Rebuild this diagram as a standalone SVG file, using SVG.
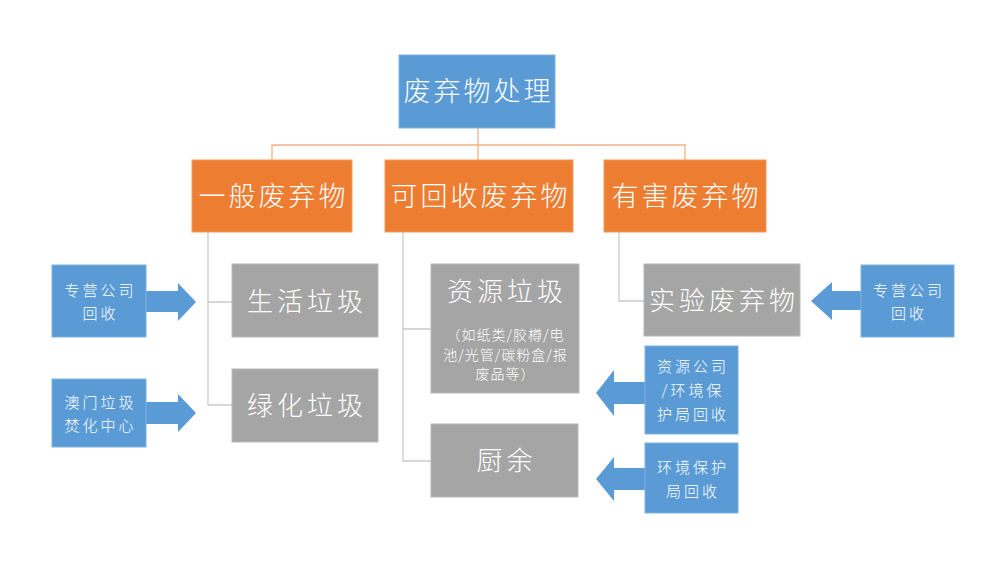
<svg xmlns="http://www.w3.org/2000/svg" width="1000" height="563" viewBox="0 0 1000 563">
<style>
.blue{fill:#5B9BD5;stroke:#7FB2E0;stroke-width:1}
.orange{fill:#ED7D31;stroke:#F29A5E;stroke-width:1}
.gray{fill:#A5A5A5;stroke:#B8B8B8;stroke-width:1}
.arrow{fill:#5B9BD5}
text{font-family:"Noto Sans CJK SC","Noto Sans CJK TC",sans-serif;fill:#FFFFFF;text-anchor:middle;dominant-baseline:central;font-weight:300}
.t0{font-size:27px;letter-spacing:3px}
.t1{font-size:27px;letter-spacing:3px}
.t2{font-size:26px;letter-spacing:4px}
.t3{font-size:14px;letter-spacing:1px}
.t4{font-size:15px;letter-spacing:3px}
.oline{fill:none;stroke:#F4B183;stroke-width:1.3}
.gline{fill:none;stroke:#C9C9C9;stroke-width:1.3}
</style>
<rect width="1000" height="563" fill="#FFFFFF"/>
<g id="connectors">
<path class="oline" d="M478,128 V145 M272,160 V145 H685 V160 M478,145 V160"/>
<path class="gline" d="M208,232 V405 H232 M208,302 H232"/>
<path class="gline" d="M403,232 V461 H431 M403,329 H431"/>
<path class="gline" d="M619,232 V301 H644"/>
<path class="arrow" d="M146,291 H178 V283 L196,302 L178,321 V312 H146 Z"/>
<path class="arrow" d="M146,402 H178 V394 L196,413 L178,432 V424 H146 Z"/>
<path class="arrow" d="M861,291 H832 V282 L811,301 L832,320 V310 H861 Z"/>
<path class="arrow" d="M645,382 H614 V370 L596,393 L614,416 V404 H645 Z"/>
<path class="arrow" d="M645,468 H614 V457 L596,479 L614,501 V490 H645 Z"/>
</g>
<g id="root">
<rect class="blue" x="399" y="55" width="156" height="73"/>
<text class="t0" x="478.5" y="89">废弃物处理</text>
</g>
<g id="general">
<rect class="orange" x="192" y="160" width="160" height="72"/>
<text class="t1" x="273.5" y="194">一般废弃物</text>
</g>
<g id="recyclable">
<rect class="orange" x="385" y="160" width="188" height="72"/>
<text class="t1" x="480.5" y="194">可回收废弃物</text>
</g>
<g id="hazardous">
<rect class="orange" x="604" y="160" width="162" height="72"/>
<text class="t1" x="686.5" y="194">有害废弃物</text>
</g>
<g id="household">
<rect class="gray" x="232" y="264" width="146" height="73"/>
<text class="t2" x="307" y="299">生活垃圾</text>
</g>
<g id="green">
<rect class="gray" x="232" y="369" width="146" height="73"/>
<text class="t2" x="307" y="403">绿化垃圾</text>
</g>
<g id="resource">
<rect class="gray" x="431" y="264" width="148" height="129"/>
<text class="t2" x="507" y="289">资源垃圾</text>
<text class="t3" x="505.5" y="334">（如纸类/胶樽/电</text>
<text class="t3" x="505.5" y="354">池/光管/碳粉盒/报</text>
<text class="t3" x="505.5" y="373">废品等）</text>
</g>
<g id="kitchen">
<rect class="gray" x="431" y="424" width="147" height="73"/>
<text class="t2" x="506.5" y="458">厨余</text>
</g>
<g id="lab">
<rect class="gray" x="644" y="264" width="156" height="72"/>
<text class="t2" x="724" y="298">实验废弃物</text>
</g>
<g id="company1">
<rect class="blue" x="52" y="265" width="94" height="72"/>
<text class="t4" x="100.5" y="289">专营公司</text>
<text class="t4" x="100.5" y="312">回收</text>
</g>
<g id="macau">
<rect class="blue" x="52" y="379" width="94" height="68"/>
<text class="t4" x="100.5" y="401">澳门垃圾</text>
<text class="t4" x="100.5" y="424">焚化中心</text>
</g>
<g id="company2">
<rect class="blue" x="861" y="265" width="93" height="72"/>
<text class="t4" x="909" y="289">专营公司</text>
<text class="t4" x="909" y="312">回收</text>
</g>
<g id="resourceco">
<rect class="blue" x="645" y="346" width="93" height="88"/>
<text class="t4" x="693" y="365">资源公司</text>
<text class="t4" x="693" y="389">/环境保</text>
<text class="t4" x="693" y="413">护局回收</text>
</g>
<g id="epb">
<rect class="blue" x="645" y="443" width="93" height="70"/>
<text class="t4" x="693" y="466">环境保护</text>
<text class="t4" x="693" y="490">局回收</text>
</g>
</svg>
